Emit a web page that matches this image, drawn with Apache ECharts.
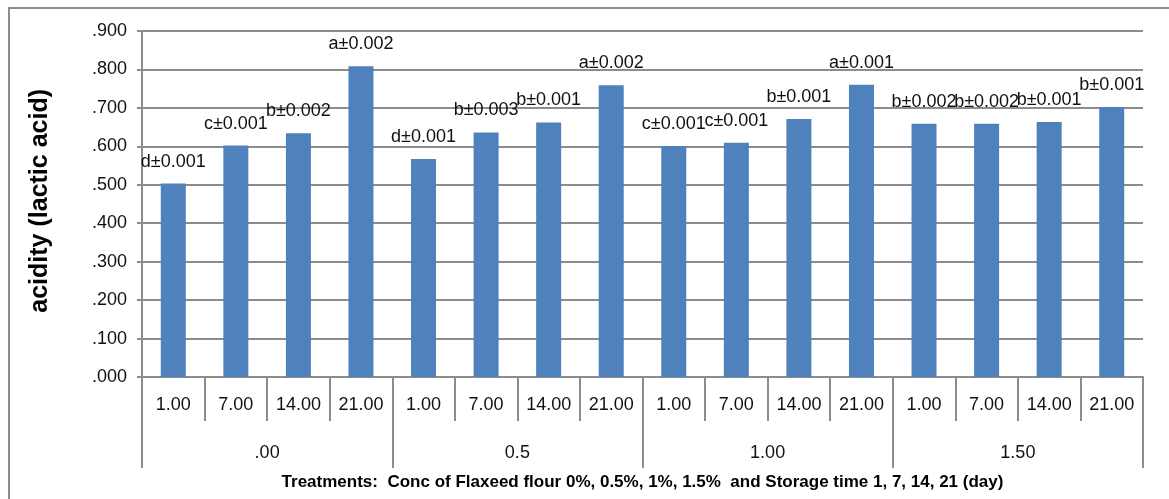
<!DOCTYPE html>
<html>
<head>
<meta charset="utf-8">
<script src="https://cdn.jsdelivr.net/npm/echarts@6/dist/echarts.min.js"></script>
<style>
html,body{margin:0;padding:0;background:#fff;}
#c{width:1169px;height:499px;}
</style>
</head>
<body>
<div id="c"></div>
<script>
const days = ['1.00','7.00','14.00','21.00'];
const concentrations = ['.00','0.5','1.00','1.50'];
const acidity = [0.503,0.602,0.634,0.808, 0.567,0.636,0.662,0.759, 0.601,0.609,0.671,0.760, 0.659,0.659,0.663,0.702];
const significance = ['d±0.001','c±0.001','b±0.002','a±0.002', 'd±0.001','b±0.003','b±0.001','a±0.002', 'c±0.001','c±0.001','b±0.001','a±0.001', 'b±0.002','b±0.002','b±0.001','b±0.001'];
const yTicks = {min:0, max:0.9, interval:0.1};
const yTitle = 'acidity (lactic acid)';
const xTitle = 'Treatments:  Conc of Flaxeed flour 0%, 0.5%, 1%, 1.5%  and Storage time 1, 7, 14, 21 (day)';

const FONT = "'Liberation Sans', sans-serif";
const GRAY = '#8c8c8c';
const categories = [];
concentrations.forEach(c => days.forEach(d => categories.push(d)));

const chart = echarts.init(document.getElementById('c'), null, {renderer:'canvas'});
chart.setOption({
  animation:false,
  backgroundColor:'#fff',
  grid:{left:142, right:26, top:31, bottom:122, containLabel:false},
  graphic:[{
    type:'rect', shape:{x:9, y:8, width:1400, height:800},
    style:{fill:null, stroke:GRAY, lineWidth:2}, silent:true
  },{
    type:'text', left:28, top:89, rotation:Math.PI/2,
    style:{text:yTitle, font:"bold 25px 'Liberation Sans', sans-serif", fill:'#000'}
  }],
  xAxis:[{
    type:'category', data:categories, position:'bottom',
    axisLine:{show:true, lineStyle:{color:GRAY, width:2}},
    axisTick:{show:true, interval:0, length:44, lineStyle:{color:GRAY, width:2}},
    axisLabel:{interval:0, margin:19, color:'#111', fontFamily:FONT, fontSize:18}
  },{
    type:'category', data:concentrations, position:'bottom',
    axisLine:{show:false},
    axisTick:{show:true, interval:0, length:91, lineStyle:{color:GRAY, width:2}},
    axisLabel:{interval:0, margin:67, color:'#111', fontFamily:FONT, fontSize:18},
    name:xTitle, nameLocation:'middle', nameGap:97,
    nameTextStyle:{fontFamily:FONT, fontWeight:'bold', fontSize:17, color:'#000'}
  }],
  yAxis:{
    type:'value', min:yTicks.min, max:yTicks.max, interval:yTicks.interval,
    axisLine:{show:true, lineStyle:{color:GRAY, width:2}},
    axisTick:{show:true, length:5, lineStyle:{color:GRAY, width:2}},
    splitLine:{show:true, lineStyle:{color:GRAY, width:2}},
    axisLabel:{margin:15, color:'#111', fontFamily:FONT, fontSize:18,
      formatter:v => v.toFixed(3).replace(/^0/, '')}
  },
  series:[{
    type:'bar', xAxisIndex:0, data:acidity, barWidth:25,
    itemStyle:{color:'#4f81bd'},
    label:{show:true, position:'top', distance:13, color:'#111', fontFamily:FONT, fontSize:18,
      formatter:p => significance[p.dataIndex]}
  }]
});
</script>
</body>
</html>
